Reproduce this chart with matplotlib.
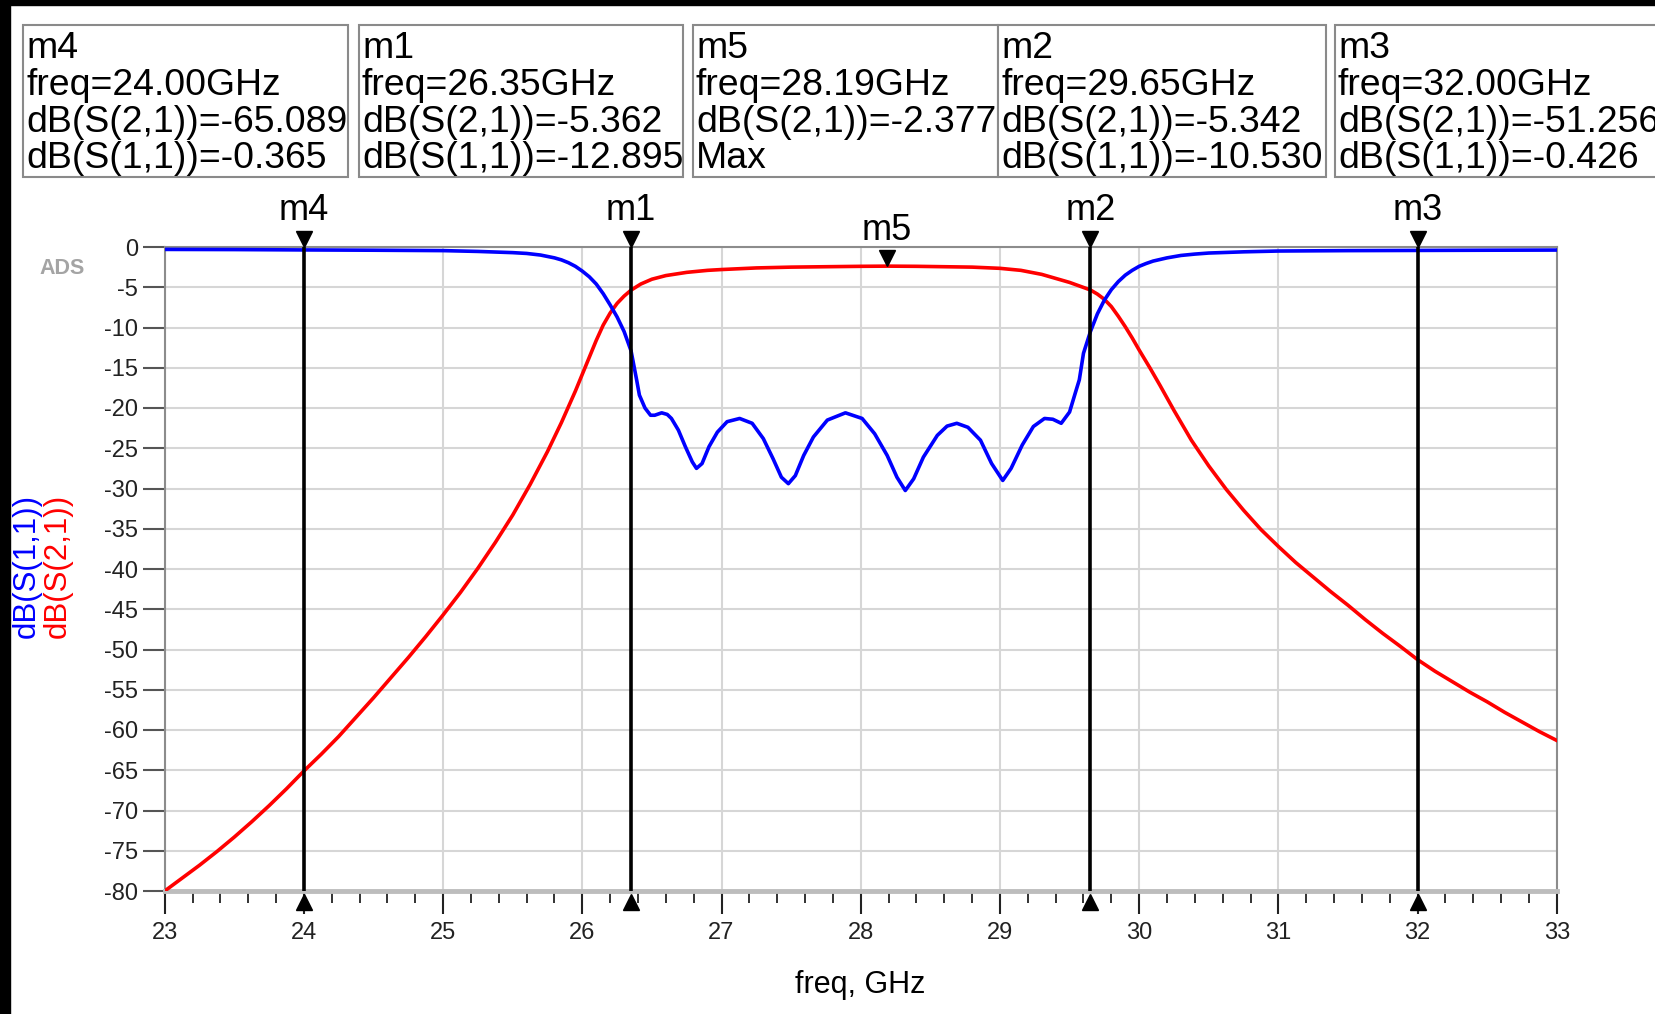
import matplotlib
matplotlib.use('Agg')
import matplotlib.pyplot as plt
import matplotlib.transforms as mtransforms
from matplotlib.patches import Rectangle
from matplotlib.ticker import MultipleLocator

plt.rcParams['font.family'] = ['Liberation Sans', 'DejaVu Sans']
plt.rcParams['axes.unicode_minus'] = False

# dB(S(2,1))
freq_s21 = [23.0, 23.125, 23.25, 23.375, 23.5, 23.625, 23.75, 23.875, 24.0, 24.125,
            24.25, 24.375, 24.5, 24.625, 24.75, 24.875, 25.0, 25.125, 25.25, 25.375,
            25.5, 25.625, 25.75, 25.85, 25.95, 26.0, 26.05, 26.1, 26.15, 26.2,
            26.25, 26.3, 26.35, 26.42, 26.5, 26.6, 26.75, 26.9, 27.0, 27.25,
            27.5, 27.75, 28.0, 28.19, 28.4, 28.6, 28.8, 29.0, 29.15, 29.3,
            29.4, 29.5, 29.58, 29.65, 29.7, 29.75, 29.8, 29.85, 29.9, 29.95,
            30.0, 30.08, 30.15, 30.25, 30.375, 30.5, 30.625, 30.75, 30.875, 31.0,
            31.125, 31.25, 31.375, 31.5, 31.625, 31.75, 31.875, 32.0, 32.125, 32.25,
            32.375, 32.5, 32.625, 32.75, 32.875, 33.0]
s21_db = [-80.0, -78.4, -76.8, -75.1, -73.3, -71.4, -69.4, -67.3, -65.09, -63.0,
          -60.8, -58.4, -56.0, -53.5, -51.0, -48.4, -45.7, -42.9, -39.9, -36.7,
          -33.3, -29.5, -25.4, -21.8, -17.9, -15.8, -13.7, -11.6, -9.7, -8.2,
          -7.0, -6.1, -5.36, -4.6, -4.0, -3.55, -3.15, -2.9, -2.8, -2.6,
          -2.5, -2.45, -2.4, -2.377, -2.4, -2.45, -2.5, -2.65, -2.9, -3.4,
          -3.9, -4.4, -4.9, -5.34, -5.85, -6.5, -7.4, -8.6, -9.9, -11.3,
          -12.8, -15.1, -17.2, -20.3, -24.0, -27.2, -30.1, -32.7, -35.1, -37.2,
          -39.2, -41.0, -42.8, -44.5, -46.3, -48.0, -49.6, -51.26, -52.7, -54.0,
          -55.3, -56.5, -57.8, -59.0, -60.2, -61.3]

# dB(S(1,1))
freq_s11 = [23.0, 23.5, 24.0, 24.5, 25.0, 25.25, 25.5, 25.6, 25.7, 25.8,
            25.85, 25.9, 25.95, 26.0, 26.05, 26.1, 26.15, 26.2, 26.25, 26.3,
            26.35, 26.39, 26.41, 26.45, 26.49, 26.52, 26.57, 26.61, 26.64, 26.69,
            26.74, 26.79, 26.82, 26.86, 26.91, 26.97, 27.04, 27.13, 27.22, 27.30,
            27.37, 27.43, 27.48, 27.53, 27.59, 27.66, 27.76, 27.89, 28.01, 28.10,
            28.19, 28.26, 28.32, 28.38, 28.45, 28.55, 28.62, 28.69, 28.77, 28.86,
            28.94, 29.02, 29.08, 29.16, 29.24, 29.32, 29.38, 29.44, 29.50, 29.54,
            29.57, 29.6, 29.65, 29.7, 29.75, 29.8, 29.85, 29.9, 29.95, 30.0,
            30.05, 30.1, 30.2, 30.3, 30.4, 30.5, 30.75, 31.0, 31.5, 32.0,
            32.5, 33.0]
s11_db = [-0.30, -0.32, -0.365, -0.40, -0.45, -0.55, -0.70, -0.80, -1.0, -1.35,
          -1.6, -1.95, -2.4, -3.0, -3.7, -4.6, -5.8, -7.2, -8.7, -10.5,
          -12.9, -16.5, -18.4, -20.0, -20.9, -20.9, -20.6, -20.8, -21.3, -22.75,
          -24.8, -26.7, -27.5, -26.9, -24.8, -23.0, -21.7, -21.3, -21.9, -23.8,
          -26.3, -28.6, -29.4, -28.4, -25.9, -23.6, -21.5, -20.6, -21.3, -23.2,
          -25.9, -28.6, -30.25, -28.8, -26.1, -23.4, -22.25, -21.9, -22.4, -24.0,
          -26.9, -29.0, -27.5, -24.6, -22.3, -21.3, -21.4, -21.9, -20.5, -18.2,
          -16.5, -13.2, -10.5, -8.3, -6.6, -5.3, -4.3, -3.5, -2.9, -2.4,
          -2.05, -1.75, -1.35, -1.05, -0.88, -0.75, -0.6, -0.5, -0.45, -0.426,
          -0.40, -0.38]

# markers
mk_names = ['m4', 'm1', 'm5', 'm2', 'm3']
mk_freq = [24.00, 26.35, 28.19, 29.65, 32.00]
mk_s21 = [-65.089, -5.362, -2.377, -5.342, -51.256]
mk_s11 = [-0.365, -12.895, None, -10.530, -0.426]
mk_kind = ['line', 'line', 'max', 'line', 'line']

W, H = 1655, 1014
fig = plt.figure(figsize=(W / 100, H / 100), dpi=100)
x0, x1, y0, y1 = 164.7, 1556.8, 247, 891
ax = fig.add_axes([x0 / W, 1 - y1 / H, (x1 - x0) / W, (y1 - y0) / H])


def fpos(x, y):
    return x / W, 1 - y / H


# black strips at the edge of the screenshot
fig.add_artist(Rectangle((0, 0), 10 / W, 1, transform=fig.transFigure,
                         color='black', zorder=0))
fig.add_artist(Rectangle((0, 1 - 5 / H), 1, 5 / H, transform=fig.transFigure,
                         color='black', zorder=0))

ax.plot(freq_s21, s21_db, color='#ff0000', lw=2.6, zorder=3,
        solid_joinstyle='round')
ax.plot(freq_s11, s11_db, color='#0000ff', lw=2.6, zorder=3,
        solid_joinstyle='round')

ax.set_xlim(23, 33)
ax.set_ylim(-80, 0)
ax.xaxis.set_major_locator(MultipleLocator(1))
ax.xaxis.set_minor_locator(MultipleLocator(0.2))
ax.yaxis.set_major_locator(MultipleLocator(5))
ax.grid(True, which='major', color='#d6d6d6', lw=1.5, zorder=0)

ax.tick_params(axis='x', which='major', length=16.5, width=1.5, color='#222222',
               pad=6, labelsize=17)
ax.tick_params(axis='x', which='minor', length=8.5, width=1.3, color='#222222')
ax.tick_params(axis='y', which='major', length=16, width=1.5, color='#555555',
               pad=3, labelsize=17)
for lab in ax.get_xticklabels() + ax.get_yticklabels():
    lab.set_color('#222222')

for side in ['left', 'top', 'right']:
    ax.spines[side].set_color('#8c8c8c')
    ax.spines[side].set_linewidth(1.5)
ax.spines['bottom'].set_color('#bdbdbd')
ax.spines['bottom'].set_linewidth(3.5)

# marker symbols on the plot
up8 = ax.transData + mtransforms.ScaledTranslation(0, 8 / 100, fig.dpi_scale_trans)
down11 = ax.transData + mtransforms.ScaledTranslation(0, -11 / 100, fig.dpi_scale_trans)
up_lab = ax.transData + mtransforms.ScaledTranslation(0, 36 / 100, fig.dpi_scale_trans)
for name, f, v, kind in zip(mk_names, mk_freq, mk_s21, mk_kind):
    if kind == 'line':
        ax.vlines(f, -80, 0, colors='black', lw=2.6, zorder=4)
        ax.plot([f], [0], 'v', color='black', ms=12, transform=up8, clip_on=False, zorder=5)
        ax.plot([f], [-80], '^', color='black', ms=12, transform=down11, clip_on=False, zorder=5)
        ax.text(f, 0, name, transform=up_lab, ha='center', va='center', fontsize=26)
    else:
        ax.plot([f], [v], 'v', color='black', ms=12, transform=up8, clip_on=False, zorder=5)
        ax.text(f, v, name, transform=up_lab, ha='center', va='center', fontsize=26)

# marker readout boxes
box_left = [23, 359, 693, 998, 1335]
box_right = [348, 683, 998, 1326, 1700]
for name, f, v21, v11, kind, bl, br in zip(mk_names, mk_freq, mk_s21, mk_s11,
                                           mk_kind, box_left, box_right):
    fig.add_artist(Rectangle(fpos(bl, 177), (br - bl) / W, 152 / H,
                             transform=fig.transFigure, facecolor='white',
                             edgecolor='#8a8a8a', lw=1.5, zorder=1))
    last = 'Max' if kind == 'max' else 'dB(S(1,1))=%.3f' % v11
    lines = [name, 'freq=%.2fGHz' % f, 'dB(S(2,1))=%.3f' % v21, last]
    for txt, yb in zip(lines, [58, 95, 131.5, 168]):
        fig.text(*fpos(bl + 3, yb), txt, fontsize=26.9, va='baseline',
                 ha='left', zorder=2)

# axis labels
fig.text(*fpos(860, 985), 'freq, GHz', fontsize=22, ha='center', va='center')
fig.text(*fpos(27, 566), 'dB(S(1,1))', color='#0000ff', fontsize=22.5,
         rotation=90, ha='center', va='center')
fig.text(*fpos(58, 566), 'dB(S(2,1))', color='#ff0000', fontsize=22.5,
         rotation=90, ha='center', va='center')
fig.text(*fpos(62, 269), 'ADS', color='#a4a4a4', fontsize=15.5,
         fontweight='bold', ha='center', va='center')

fig.savefig('out.png', dpi=100, facecolor='white')
